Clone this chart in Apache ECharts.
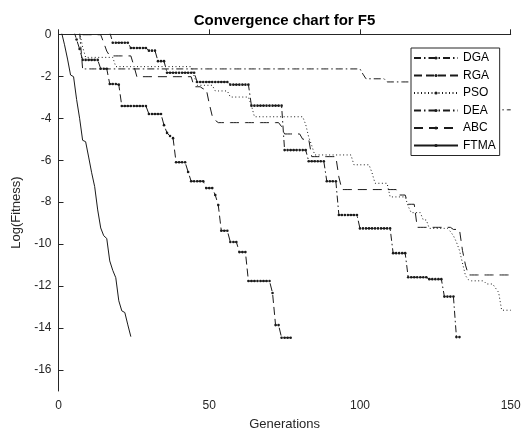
<!DOCTYPE html>
<html>
<head>
<meta charset="utf-8">
<script src="https://cdn.jsdelivr.net/npm/echarts@6/dist/echarts.min.js"></script>
<style>
html,body{margin:0;padding:0;background:#fff;}
#chart{width:524px;height:438px;}
</style>
</head>
<body>
<div id="chart"></div>
<script>
// ---- data (generation index starts at *Start) ----
const titleText = 'Convergence chart for F5';
const xName = 'Generations';
const yName = 'Log(Fitness)';
const xTicks = [0, 50, 100, 150];
const yTicks = [0, -2, -4, -6, -8, -10, -12, -14, -16];
const seriesNames = ['DGA', 'RGA', 'PSO', 'DEA', 'ABC', 'FTMA'];

const dgaStart = 17;
const dgaValues = [
  0.1,
  -0.4, -0.4, -0.4, -0.4, -0.4, -0.4,
  -0.65, -0.65, -0.65, -0.65, -0.65, -0.65,
  -0.78, -0.78, -0.78,
  -1.28, -1.28, -1.28,
  -1.83, -1.83, -1.83, -1.83, -1.83, -1.83, -1.83, -1.83, -1.83, -1.83,
  -2.27, -2.27, -2.27, -2.27, -2.27, -2.27, -2.27, -2.27, -2.27, -2.27, -2.27,
  -2.4, -2.4, -2.4, -2.4, -2.4, -2.4, -2.4,
  -3.4, -3.4, -3.4, -3.4, -3.4, -3.4, -3.4, -3.4, -3.4, -3.4, -3.4,
  -5.52, -5.52, -5.52, -5.52, -5.52, -5.52, -5.52, -5.52,
  -6.05, -6.05, -6.05, -6.05, -6.05, -6.05,
  -7.0, -7.0, -7.0, -7.0,
  -8.61, -8.61, -8.61, -8.61, -8.61, -8.61, -8.61,
  -9.25, -9.25, -9.25, -9.25, -9.25, -9.25, -9.25, -9.25, -9.25, -9.25, -9.25,
  -10.43, -10.43, -10.43, -10.43, -10.43,
  -11.58, -11.58, -11.58, -11.58, -11.58, -11.58, -11.58,
  -11.67, -11.67, -11.67, -11.67, -11.67,
  -12.5, -12.5, -12.5, -12.5,
  -14.43, -14.43
];

const rgaStart = 5;
const rgaValues = [
  0.2, -0.25, -0.7,
  -1.22, -1.22, -1.22, -1.22, -1.22, -1.22,
  -1.64, -1.64, -1.64,
  -2.37, -2.37, -2.37, -2.4,
  -3.42, -3.42, -3.42, -3.42, -3.42, -3.42, -3.42, -3.42, -3.42,
  -3.8, -3.8, -3.8, -3.8, -3.8,
  -4.33, -4.7, -4.85, -4.95,
  -6.1, -6.1, -6.1, -6.1,
  -6.56,
  -7.0, -7.0, -7.0, -7.0, -7.0,
  -7.33, -7.33, -7.33,
  -7.66, -8.14,
  -9.36, -9.36, -9.36,
  -9.9, -9.9, -9.9,
  -10.38, -10.38, -10.38,
  -11.76, -11.76, -11.76, -11.76, -11.76, -11.76, -11.76, -11.76,
  -12.33,
  -13.86, -13.86,
  -14.46, -14.46, -14.46, -14.46
];

const psoStart = 7;
const psoValues = [
  0.1, -0.6,
  -1.1, -1.1, -1.1, -1.1, -1.1, -1.1, -1.1, -1.1, -1.1, -1.1,
  -1.54, -1.54, -1.54, -1.54, -1.54, -1.54, -1.54, -1.54, -1.54, -1.54, -1.54, -1.54, -1.54,
  -1.54, -1.54, -1.54, -1.54, -1.54, -1.54, -1.54, -1.54, -1.54, -1.54, -1.54, -1.54, -1.54,
  -2.0,
  -2.43, -2.43, -2.43, -2.43, -2.43, -2.43,
  -2.7, -2.7, -2.7, -2.7, -2.7,
  -2.99, -2.99, -2.99, -2.99, -2.99, -2.99, -2.99,
  -3.4,
  -3.93, -3.93, -3.93, -3.93, -3.93, -3.93, -3.93, -3.93, -3.93, -3.93, -3.93, -3.93, -3.93, -3.93, -3.93, -3.93, -3.93,
  -4.3, -4.9, -5.3,
  -5.75, -5.75, -5.75, -5.75, -5.75, -5.75, -5.75, -5.75, -5.75, -5.75, -5.75, -5.75, -5.75,
  -6.22, -6.22, -6.22, -6.22, -6.22, -6.22,
  -6.6,
  -7.1, -7.1, -7.1, -7.1, -7.1,
  -7.75, -7.75, -7.75, -7.75, -7.75, -7.75,
  -8.2,
  -8.5, -8.5, -8.5, -8.5,
  -8.85, -8.85,
  -9.25, -9.25, -9.25, -9.25, -9.25, -9.25, -9.25,
  -9.4, -9.6, -9.9, -10.3, -10.9, -11.5, -11.7,
  -11.75, -11.75, -11.75, -11.75, -11.75,
  -11.9, -11.9, -11.9,
  -12.1, -12.3,
  -13.15, -13.15, -13.15, -13.15
];

const deaStart = 7;
const deaValues = [
  0.1,
  -1.65, -1.65, -1.65, -1.65, -1.65, -1.65, -1.65, -1.65, -1.65, -1.65,
  -1.65, -1.65, -1.65, -1.65, -1.65, -1.65, -1.65, -1.65, -1.65, -1.65,
  -1.65, -1.65, -1.65, -1.65, -1.65, -1.65, -1.65, -1.65, -1.65, -1.65,
  -1.65, -1.65, -1.65, -1.65, -1.65, -1.65, -1.65, -1.65, -1.65, -1.65,
  -1.65, -1.65, -1.65, -1.65, -1.65, -1.65, -1.65, -1.65, -1.65, -1.65,
  -1.65, -1.65, -1.65, -1.65, -1.65, -1.65, -1.65, -1.65, -1.65, -1.65,
  -1.65, -1.65, -1.65, -1.65, -1.65, -1.65, -1.65, -1.65, -1.65, -1.65,
  -1.65, -1.65, -1.65, -1.65, -1.65, -1.65, -1.65, -1.65, -1.65, -1.65,
  -1.65, -1.65, -1.65, -1.65, -1.65, -1.65, -1.65, -1.65, -1.65, -1.65,
  -1.65, -1.65, -1.65,
  -1.9,
  -2.12, -2.12, -2.12, -2.12, -2.12, -2.12, -2.12,
  -2.27, -2.27, -2.27, -2.27, -2.27, -2.27, -2.27, -2.27, -2.27, -2.27,
  -2.27, -2.27, -2.27, -2.27, -2.27, -2.27, -2.27, -2.27, -2.27, -2.27,
  -2.27, -2.27, -2.27, -2.27, -2.27, -2.27, -2.27,
  -3.6, -3.6, -3.6, -3.6, -3.6, -3.6, -3.6, -3.6, -3.6, -3.6,
  -3.6, -3.6, -3.6, -3.6, -3.6
];

const abcStart = 8;
const abcValues = [
  -0.02, -0.02, -0.02, -0.02, -0.02, -0.02, -0.02,
  -0.4, -0.8,
  -1.03, -1.03, -1.03, -1.03, -1.03, -1.03, -1.03, -1.03,
  -1.5,
  -2.02, -2.02, -2.02, -2.02, -2.02, -2.02, -2.02, -2.02, -2.02, -2.02,
  -2.02, -2.02, -2.02, -2.02, -2.02, -2.02, -2.02, -2.02, -2.02,
  -2.5, -2.5, -2.5,
  -2.6, -2.6,
  -3.3, -3.9, -4.1,
  -4.21, -4.21, -4.21, -4.21, -4.21, -4.21, -4.21, -4.21, -4.21, -4.21,
  -4.21, -4.21, -4.21, -4.21, -4.21, -4.21, -4.21, -4.21, -4.21, -4.21, -4.21,
  -4.4,
  -4.75, -4.75, -4.75, -4.75, -4.75, -4.75,
  -5.0, -5.0, -5.0,
  -5.83, -5.83, -5.83, -5.83, -5.83, -5.83, -5.83, -5.83, -5.83,
  -6.8,
  -7.4, -7.4, -7.4, -7.4, -7.4, -7.4, -7.4, -7.4, -7.4, -7.4,
  -7.4, -7.4, -7.4, -7.4, -7.4, -7.4, -7.4, -7.4, -7.4,
  -7.66, -7.66, -7.66,
  -8.1, -8.1, -8.1,
  -9.2, -9.2, -9.2, -9.2, -9.2, -9.2, -9.2, -9.2, -9.2, -9.2, -9.2, -9.2,
  -9.3, -9.3, -9.3,
  -10.3, -11.0,
  -11.47, -11.47, -11.47, -11.47, -11.47, -11.47, -11.47, -11.47,
  -11.47, -11.47, -11.47, -11.47, -11.47, -11.47, -11.47
];

const ftmaStart = 1;
const ftmaValues = [
  0.1, -0.5, -1.18, -1.94, -2.02, -3.1, -4.0, -5.05, -5.12, -5.85,
  -6.6, -7.26, -8.37, -9.23, -9.6, -9.73, -10.8, -11.25, -11.6, -12.7,
  -13.18, -13.26, -13.85, -14.41
];

function pairs(start, vals) {
  return vals.map(function (v, i) { return [start + i, v]; });
}

const axisColor = '#262626';
const lineColor = '#1a1a1a';
const font = '"Liberation Sans", Arial, Helvetica, sans-serif';

const chart = echarts.init(document.getElementById('chart'), null, {renderer: 'canvas'});

function lineSeries(name, data, dash, marker) {
  return {
    name: name,
    type: 'line',
    data: data,
    showSymbol: !!marker,
    symbol: marker ? 'circle' : 'none',
    symbolSize: 2.6,
    itemStyle: {color: lineColor},
    lineStyle: {color: lineColor, width: 1, type: dash},
    emphasis: {disabled: true},
    animation: false,
    clip: true,
    z: 2
  };
}

const option = {
  animation: false,
  backgroundColor: '#ffffff',
  textStyle: {fontFamily: font},
  graphic: [{
    type: 'text',
    x: 284.5,
    y: 21,
    style: {
      text: titleText,
      font: 'bold 15px ' + font,
      fill: '#000',
      align: 'center',
      verticalAlign: 'middle'
    }
  }],
  grid: {left: 58.5, right: 13.3, top: 34.3, bottom: 47, containLabel: false},
  legend: {
    orient: 'vertical',
    left: 411,
    top: 48,
    padding: [3, 4, 3, 2],
    itemGap: 3.5,
    itemWidth: 44,
    itemHeight: 4,
    backgroundColor: '#ffffff',
    borderColor: axisColor,
    borderWidth: 1,
    borderRadius: 0,
    textStyle: {fontFamily: font, fontSize: 12, color: '#000', lineHeight: 14},
    data: seriesNames,
    z: 10
  },
  xAxis: {
    type: 'value',
    min: 0, max: 150, interval: 50,
    name: xName,
    nameLocation: 'middle',
    nameGap: 27,
    nameTextStyle: {fontFamily: font, fontSize: 13, color: axisColor},
    axisLine: {show: true, lineStyle: {color: axisColor, width: 1}},
    axisTick: {show: true, inside: true, length: 5, lineStyle: {color: axisColor}},
    axisLabel: {color: axisColor, fontFamily: font, fontSize: 12, margin: 9,
      customValues: xTicks},
    splitLine: {show: false}
  },
  yAxis: {
    type: 'value',
    min: -17, max: 0,
    name: yName,
    nameLocation: 'middle',
    nameGap: 25,
    nameTextStyle: {fontFamily: font, fontSize: 13, color: axisColor},
    axisLine: {show: true, lineStyle: {color: axisColor, width: 1}},
    axisTick: {show: true, inside: true, length: 5, lineStyle: {color: axisColor}, customValues: yTicks},
    axisLabel: {color: axisColor, fontFamily: font, fontSize: 12, margin: 7, customValues: yTicks},
    splitLine: {show: false}
  },
  series: [
    lineSeries('DGA', pairs(dgaStart, dgaValues), [7, 3, 1.5, 3], true),
    lineSeries('RGA', pairs(rgaStart, rgaValues), [8, 4], true),
    lineSeries('PSO', pairs(psoStart, psoValues), [1, 2.5], false),
    lineSeries('DEA', pairs(deaStart, deaValues), [7, 3, 1.5, 3], false),
    lineSeries('ABC', pairs(abcStart, abcValues), [9, 6], false),
    lineSeries('FTMA', pairs(ftmaStart, ftmaValues), 'solid', false)
  ]
};
chart.setOption(option);
</script>
</body>
</html>
